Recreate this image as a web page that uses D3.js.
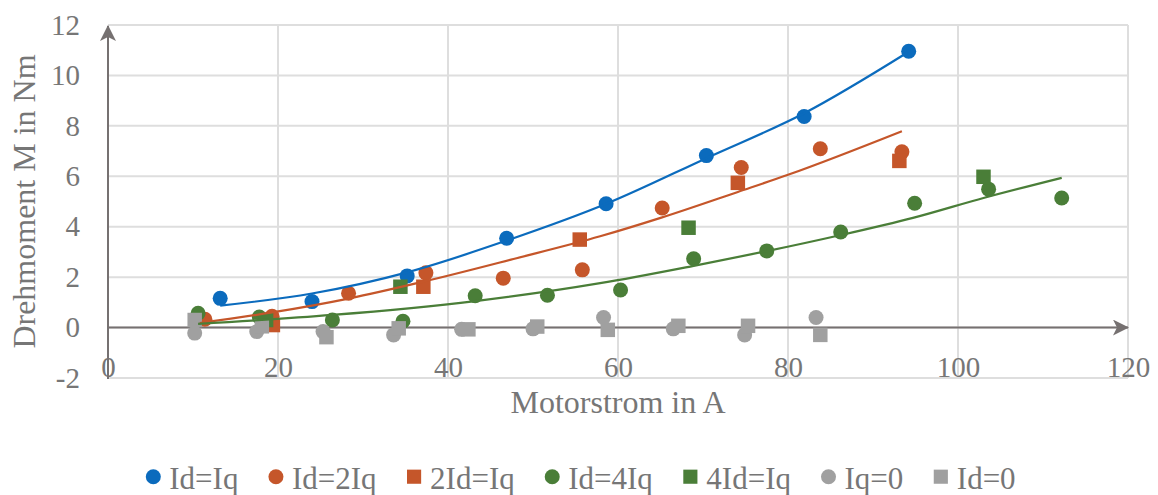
<!DOCTYPE html>
<html>
<head>
    <meta charset="utf-8">
    <style>
        body { margin: 0; background: #fff; }
        svg text { font-family: "Liberation Serif", "Times New Roman", serif; fill: #767676; }
        .tick text { font-size: 29px; }
        .title { font-size: 32px; }
        .legend text { font-size: 31px; }
    </style>
    <script src="https://d3js.org/d3.v7.min.js"></script>
</head>
<body>
<script>
    // series names (legend order = drawing order)
    var seriesNames = ["Id=Iq", "Id=2Iq", "2Id=Iq", "Id=4Iq", "4Id=Iq", "Iq=0", "Id=0"];

    // measured points, current in A / torque in Nm
    var idIqX  = [13.2, 24.0, 35.2, 46.9, 58.6, 70.4, 81.9, 94.2];
    var idIqY  = [1.16, 1.03, 2.05, 3.54, 4.91, 6.82, 8.37, 10.96];

    var id2IqX = [11.4, 19.3, 28.3, 37.4, 46.5, 55.8, 65.2, 74.5, 83.8, 93.4];
    var id2IqY = [0.33, 0.45, 1.36, 2.17, 1.96, 2.29, 4.74, 6.35, 7.09, 6.97];

    var twoIdIqX = [19.4, 37.1, 55.5, 74.1, 93.1];
    var twoIdIqY = [0.1, 1.62, 3.49, 5.74, 6.61];

    var id4IqX = [10.6, 17.8, 26.4, 34.7, 43.2, 51.7, 60.3, 68.9, 77.5, 86.2, 94.9, 103.6, 112.2];
    var id4IqY = [0.57, 0.42, 0.3, 0.25, 1.26, 1.28, 1.49, 2.73, 3.04, 3.79, 4.93, 5.49, 5.14];

    var fourIdIqX = [18.6, 34.4, 68.3, 103.0];
    var fourIdIqY = [0.3, 1.62, 3.96, 5.98];

    var iq0X = [10.2, 17.5, 25.3, 33.6, 41.6, 50.0, 58.3, 66.5, 74.9, 83.3];
    var iq0Y = [-0.22, -0.16, -0.16, -0.29, -0.07, -0.05, 0.4, -0.05, -0.29, 0.4];

    var id0X = [10.2, 18.1, 25.7, 34.2, 42.4, 50.5, 58.8, 67.1, 75.3, 83.8];
    var id0Y = [0.3, 0.05, -0.38, -0.03, -0.07, 0.04, -0.09, 0.07, 0.07, -0.29];

    // trend lines
    var trendIdIqX  = [13.2, 24, 35.3, 46.9, 58.7, 70.4, 81.9, 94.1];
    var trendIdIqY  = [0.87, 1.35, 2.2, 3.45, 4.92, 6.72, 8.5, 10.92];
    var trendId2IqX = [10.8, 19.3, 28.3, 37.1, 47.7, 57.9, 65.1, 74.1, 80, 93.4];
    var trendId2IqY = [0.18, 0.6, 1.15, 1.82, 2.72, 3.62, 4.36, 5.38, 6.06, 7.79];
    var trendId4IqX = [10.6, 26.4, 43.2, 57.9, 68.9, 77.5, 86.1, 94.7, 103.1, 112.2];
    var trendId4IqY = [0.15, 0.5, 1.05, 1.76, 2.45, 3.03, 3.66, 4.35, 5.15, 5.94];

    // axis ticks
    var xTicks = [0, 20, 40, 60, 80, 100, 120];
    var yTicks = [-2, 0, 2, 4, 6, 8, 10, 12];

    var width = 1158, height = 495;
    var blue = "#0b6bbd", orange = "#c5562a", green = "#4a7e38", grey = "#a0a0a0";
    var axisColor = "#767171";

    var series = [
        { name: seriesNames[0], xs: idIqX, ys: idIqY, color: blue, shape: d3.symbolCircle },
        { name: seriesNames[1], xs: id2IqX, ys: id2IqY, color: orange, shape: d3.symbolCircle },
        { name: seriesNames[2], xs: twoIdIqX, ys: twoIdIqY, color: orange, shape: d3.symbolSquare },
        { name: seriesNames[3], xs: id4IqX, ys: id4IqY, color: green, shape: d3.symbolCircle },
        { name: seriesNames[4], xs: fourIdIqX, ys: fourIdIqY, color: green, shape: d3.symbolSquare },
        { name: seriesNames[5], xs: iq0X, ys: iq0Y, color: grey, shape: d3.symbolCircle },
        { name: seriesNames[6], xs: id0X, ys: id0Y, color: grey, shape: d3.symbolSquare }
    ];
    var trends = [
        { xs: trendIdIqX, ys: trendIdIqY, color: blue },
        { xs: trendId2IqX, ys: trendId2IqY, color: orange },
        { xs: trendId4IqX, ys: trendId4IqY, color: green }
    ];

    var x = d3.scaleLinear().domain([0, 120]).range([108, 1128]);
    var y = d3.scaleLinear().domain([-2, 12]).range([378, 25]);

    var svg = d3.select("body").append("svg")
        .attr("width", width).attr("height", height);

    // gridlines
    svg.append("g").selectAll("line").data(yTicks).enter().append("line")
        .attr("x1", x(0)).attr("x2", x(120))
        .attr("y1", d => y(d)).attr("y2", d => y(d))
        .attr("stroke", "#dedede").attr("stroke-width", 2);
    svg.append("g").selectAll("line").data(xTicks.slice(1)).enter().append("line")
        .attr("x1", d => x(d)).attr("x2", d => x(d))
        .attr("y1", y(-2)).attr("y2", y(12))
        .attr("stroke", "#dedede").attr("stroke-width", 2);

    // tick labels (plain hyphen for negatives, like the original)
    var fmt = d => String(d);
    var yAxis = svg.append("g").attr("transform", "translate(" + x(0) + ",0)")
        .call(d3.axisLeft(y).tickValues(yTicks).tickFormat(fmt).tickSize(0).tickPadding(28));
    var xAxis = svg.append("g").attr("transform", "translate(0," + y(0) + ")")
        .call(d3.axisBottom(x).tickValues(xTicks).tickFormat(fmt).tickSize(0).tickPadding(29));
    yAxis.select(".domain").remove();
    xAxis.select(".domain").remove();
    svg.selectAll(".tick text").attr("fill", "#767676").style("fill", "#767676");

    // axis lines with arrow heads
    var defs = svg.append("defs");
    defs.append("marker").attr("id", "arrow")
        .attr("viewBox", "0 0 16 16").attr("refX", 15).attr("refY", 8)
        .attr("markerWidth", 16).attr("markerHeight", 16)
        .attr("markerUnits", "userSpaceOnUse").attr("orient", "auto")
        .append("path").attr("d", "M0,0 L16,8 L0,16 L4,8 Z").attr("fill", axisColor);

    svg.append("line")
        .attr("x1", x(0)).attr("x2", x(0))
        .attr("y1", y(-2) + 1).attr("y2", y(12) + 1)
        .attr("stroke", axisColor).attr("stroke-width", 2)
        .attr("marker-end", "url(#arrow)");
    svg.append("line")
        .attr("x1", x(0)).attr("x2", x(120))
        .attr("y1", y(0)).attr("y2", y(0))
        .attr("stroke", axisColor).attr("stroke-width", 2)
        .attr("marker-end", "url(#arrow)");

    // markers
    series.forEach(function(s) {
        var sym = d3.symbol().type(s.shape).size(s.shape === d3.symbolCircle ? 177 : 210);
        svg.append("g").selectAll("path").data(d3.range(s.xs.length)).enter().append("path")
            .attr("d", sym)
            .attr("transform", i => "translate(" + x(s.xs[i]) + "," + y(s.ys[i]) + ")")
            .attr("fill", s.color);
    });

    // trend lines
    var line = d3.line()
        .x(d => x(d[0])).y(d => y(d[1]))
        .curve(d3.curveMonotoneX);
    trends.forEach(function(t) {
        svg.append("path")
            .datum(d3.zip(t.xs, t.ys))
            .attr("d", line)
            .attr("fill", "none")
            .attr("stroke", t.color)
            .attr("stroke-width", 2.2);
    });

    // axis titles
    svg.append("text").attr("class", "title")
        .attr("transform", "translate(35," + ((y(12) + y(-2)) / 2) + ") rotate(-90)")
        .attr("text-anchor", "middle")
        .text("Drehmoment M in Nm");
    svg.append("text").attr("class", "title")
        .attr("x", (x(0) + x(120)) / 2).attr("y", 413)
        .attr("text-anchor", "middle")
        .text("Motorstrom in A");

    // legend
    var legend = svg.append("g").attr("class", "legend");
    var lx = 153.3, ly = 476.7;
    series.forEach(function(s) {
        var sym = d3.symbol().type(s.shape).size(s.shape === d3.symbolCircle ? 177 : 200);
        legend.append("path").attr("d", sym)
            .attr("transform", "translate(" + lx + "," + ly + ")")
            .attr("fill", s.color);
        var t = legend.append("text").attr("x", lx + 16).attr("y", 489).text(s.name);
        lx = lx + 16 + t.node().getComputedTextLength() + 37.5;
    });
</script>
</body>
</html>
